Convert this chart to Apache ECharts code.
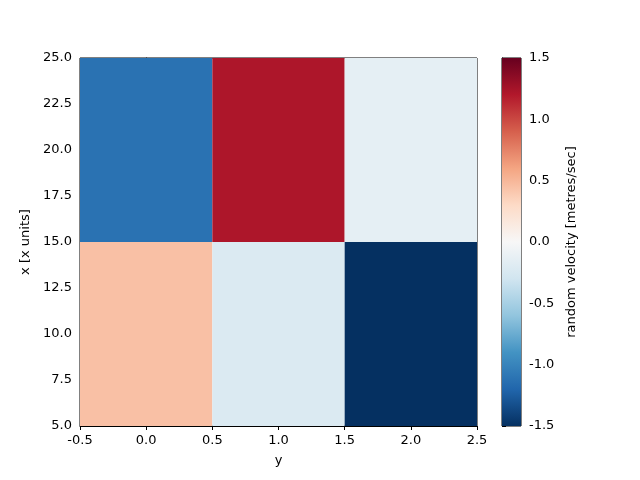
<!DOCTYPE html>
<html><head><meta charset="utf-8">
<script src="https://cdn.jsdelivr.net/npm/echarts@6/dist/echarts.min.js"></script>
<style>html,body{margin:0;padding:0;background:#fff}#c{width:640px;height:480px}</style>
</head><body><div id="c"></div>
<script>
const xCenters = [0, 1, 2];
const yEdges = [5, 15, 25];
const values = [
  [0.45, -0.22, -1.5],   // row 5-15
  [-1.12, 1.22, -0.14]   // row 15-25
];
const xTicks = [-0.5, 0.0, 0.5, 1.0, 1.5, 2.0, 2.5];
const cbTicks = [-1.5, -1.0, -0.5, 0.0, 0.5, 1.0, 1.5];
const cmap = ['#053061','#2166ac','#4393c3','#92c5de','#d1e5f0','#f7f7f7','#fddbc7','#f4a582','#d6604d','#b2182b','#67001f'];

const cells = [];
values.forEach((row, r) => row.forEach((v, c) => cells.push([xCenters[c], yEdges[r], yEdges[r+1], v])));

const font = {fontFamily: 'DejaVu Sans', fontSize: 13, color: '#000'};
const axisCommon = {
  axisLine: {show: true, lineStyle: {color: '#000'}},
  axisTick: {show: true, length: 4, inside: false, lineStyle: {color: '#000'}},
  splitLine: {show: false},
  axisLabel: Object.assign({}, font, {formatter: v => v.toFixed(1)}),
  nameTextStyle: font
};
const chart = echarts.init(document.getElementById('c'));
chart.setOption({
  animation: false,
  grid: [
    {left: 80, top: 58, width: 397, height: 368, show: true, borderColor: '#000', borderWidth: 1},
    {left: 502, top: 58, width: 19, height: 368, show: true, borderColor: '#000', borderWidth: 1}
  ],
  xAxis: [
    Object.assign({}, axisCommon, {type: 'value', gridIndex: 0, min: -0.5, max: 2.5, interval: 0.5, name: 'y', nameLocation: 'middle', nameGap: 28}),
    {type: 'value', gridIndex: 1, min: 0, max: 1, show: false}
  ],
  yAxis: [
    Object.assign({}, axisCommon, {type: 'value', gridIndex: 0, min: 5, max: 25, interval: 2.5, name: 'x [x units]', nameLocation: 'middle', nameGap: 48}),
    Object.assign({}, axisCommon, {type: 'value', gridIndex: 1, position: 'right', min: -1.5, max: 1.5, interval: 0.5, name: 'random velocity [metres/sec]', nameLocation: 'middle', nameGap: 44, nameRotate: 90,
      axisLabel: Object.assign({}, font, {formatter: v => v.toFixed(1)})})
  ],
  visualMap: {show: false, type: 'continuous', min: -1.5, max: 1.5, dimension: 3, seriesIndex: 0, inRange: {color: cmap}},
  series: [
    {
      type: 'custom', xAxisIndex: 0, yAxisIndex: 0, data: cells,
      renderItem: (params, api) => {
        const p0 = api.coord([api.value(0) - 0.5, api.value(2)]);
        const p1 = api.coord([api.value(0) + 0.5, api.value(1)]);
        return {type: 'rect', shape: {x: p0[0], y: p0[1], width: p1[0] - p0[0], height: p1[1] - p0[1]},
          style: {fill: api.visual('color')}};
      }
    },
    {
      type: 'custom', xAxisIndex: 1, yAxisIndex: 1, data: [[0, -1.5, 1, 1.5]],
      renderItem: (params, api) => {
        const p0 = api.coord([api.value(0), api.value(3)]);
        const p1 = api.coord([api.value(2), api.value(1)]);
        return {type: 'rect', shape: {x: p0[0], y: p0[1], width: p1[0] - p0[0], height: p1[1] - p0[1]},
          style: {fill: new echarts.graphic.LinearGradient(0, 1, 0, 0, cmap.map((c, i) => ({offset: i / (cmap.length - 1), color: c})))}};
      }
    }
  ]
});
</script></body></html>
